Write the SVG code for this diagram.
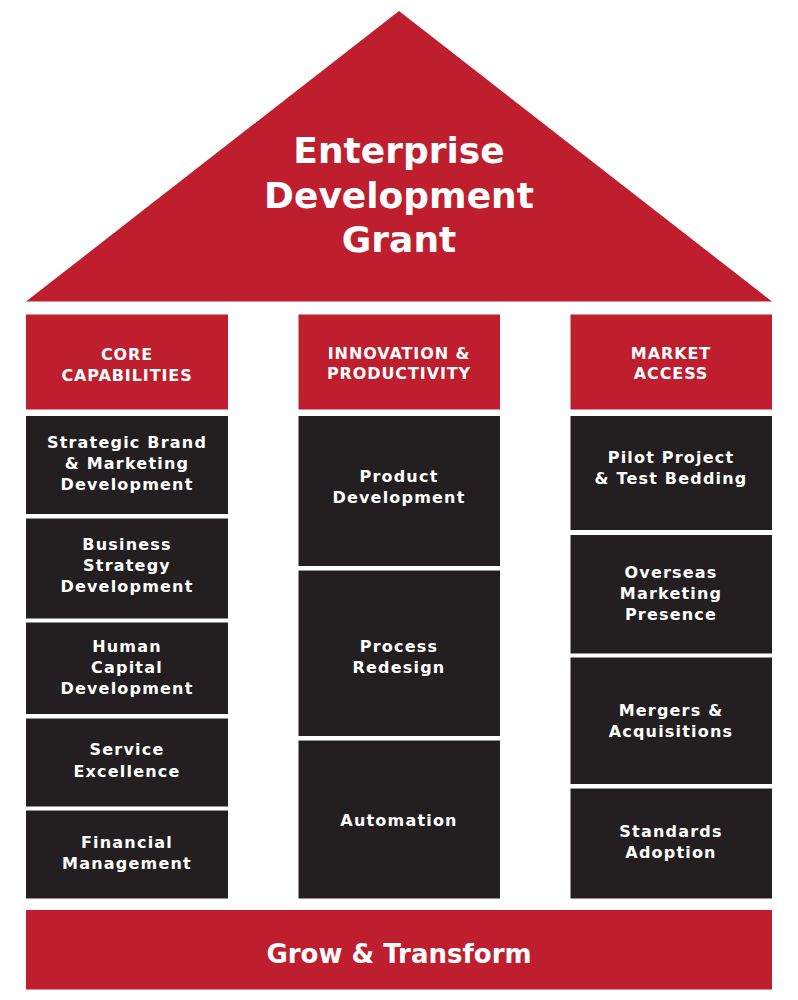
<svg xmlns="http://www.w3.org/2000/svg" width="798" height="1000" viewBox="0 0 798 1000">
<style>
.red{fill:#BE1E2D}
.blk{fill:#231F20}
text{font-family:"DejaVu Sans","Liberation Sans",sans-serif;font-weight:bold;fill:#FFFFFF;text-anchor:middle}
.title{font-size:36px}
.hdr{font-size:16px;letter-spacing:0.9px}
.item{font-size:16px;letter-spacing:1.2px}
.base{font-size:26px}
</style>
<rect width="798" height="1000" fill="#FFFFFF"/>
<g id="roof">
<polygon class="red" points="399,11 772,301.5 26,301.5"/>
<text class="title" x="399" y="163">Enterprise</text>
<text class="title" x="399" y="207.5">Development</text>
<text class="title" x="399" y="252">Grant</text>
</g>
<g id="core-header">
<rect class="red" x="26" y="314.5" width="202" height="95"/>
<text class="hdr" x="127" y="360">CORE</text>
<text class="hdr" x="127" y="380.5">CAPABILITIES</text>
</g>
<g id="core-1">
<rect class="blk" x="26" y="416" width="202" height="98"/>
<text class="item" x="127" y="448">Strategic Brand</text>
<text class="item" x="127" y="469">&amp; Marketing</text>
<text class="item" x="127" y="490">Development</text>
</g>
<g id="core-2">
<rect class="blk" x="26" y="518.5" width="202" height="100"/>
<text class="item" x="127" y="549.5">Business</text>
<text class="item" x="127" y="570.5">Strategy</text>
<text class="item" x="127" y="591.5">Development</text>
</g>
<g id="core-3">
<rect class="blk" x="26" y="622.5" width="202" height="91.5"/>
<text class="item" x="127" y="651.5">Human</text>
<text class="item" x="127" y="672.5">Capital</text>
<text class="item" x="127" y="693.5">Development</text>
</g>
<g id="core-4">
<rect class="blk" x="26" y="718.5" width="202" height="88"/>
<text class="item" x="127" y="755">Service</text>
<text class="item" x="127" y="776.5">Excellence</text>
</g>
<g id="core-5">
<rect class="blk" x="26" y="810.5" width="202" height="88"/>
<text class="item" x="127" y="848">Financial</text>
<text class="item" x="127" y="869">Management</text>
</g>
<g id="innov-header">
<rect class="red" x="298.5" y="314.5" width="201.5" height="95"/>
<text class="hdr" x="399" y="358.5">INNOVATION &amp;</text>
<text class="hdr" x="399" y="379">PRODUCTIVITY</text>
</g>
<g id="innov-1">
<rect class="blk" x="298.5" y="416" width="201.5" height="150"/>
<text class="item" x="399" y="481.5">Product</text>
<text class="item" x="399" y="502.5">Development</text>
</g>
<g id="innov-2">
<rect class="blk" x="298.5" y="570.5" width="201.5" height="165.5"/>
<text class="item" x="399" y="651.5">Process</text>
<text class="item" x="399" y="672.5">Redesign</text>
</g>
<g id="innov-3">
<rect class="blk" x="298.5" y="740.5" width="201.5" height="158"/>
<text class="item" x="399" y="825.5">Automation</text>
</g>
<g id="market-header">
<rect class="red" x="570.5" y="314.5" width="201.5" height="95"/>
<text class="hdr" x="671" y="358.5">MARKET</text>
<text class="hdr" x="671" y="379">ACCESS</text>
</g>
<g id="market-1">
<rect class="blk" x="570.5" y="416" width="201.5" height="114"/>
<text class="item" x="671" y="463">Pilot Project</text>
<text class="item" x="671" y="484">&amp; Test Bedding</text>
</g>
<g id="market-2">
<rect class="blk" x="570.5" y="535" width="201.5" height="118.5"/>
<text class="item" x="671" y="577.5">Overseas</text>
<text class="item" x="671" y="598.5">Marketing</text>
<text class="item" x="671" y="619.5">Presence</text>
</g>
<g id="market-3">
<rect class="blk" x="570.5" y="657.5" width="201.5" height="126.5"/>
<text class="item" x="671" y="715.5">Mergers &amp;</text>
<text class="item" x="671" y="736.5">Acquisitions</text>
</g>
<g id="market-4">
<rect class="blk" x="570.5" y="788.5" width="201.5" height="110"/>
<text class="item" x="671" y="837">Standards</text>
<text class="item" x="671" y="858">Adoption</text>
</g>
<g id="foundation">
<rect class="red" x="26" y="910" width="746" height="79.5"/>
<text class="base" x="399" y="963">Grow &amp; Transform</text>
</g>
<g id="connectors"/>
</svg>
